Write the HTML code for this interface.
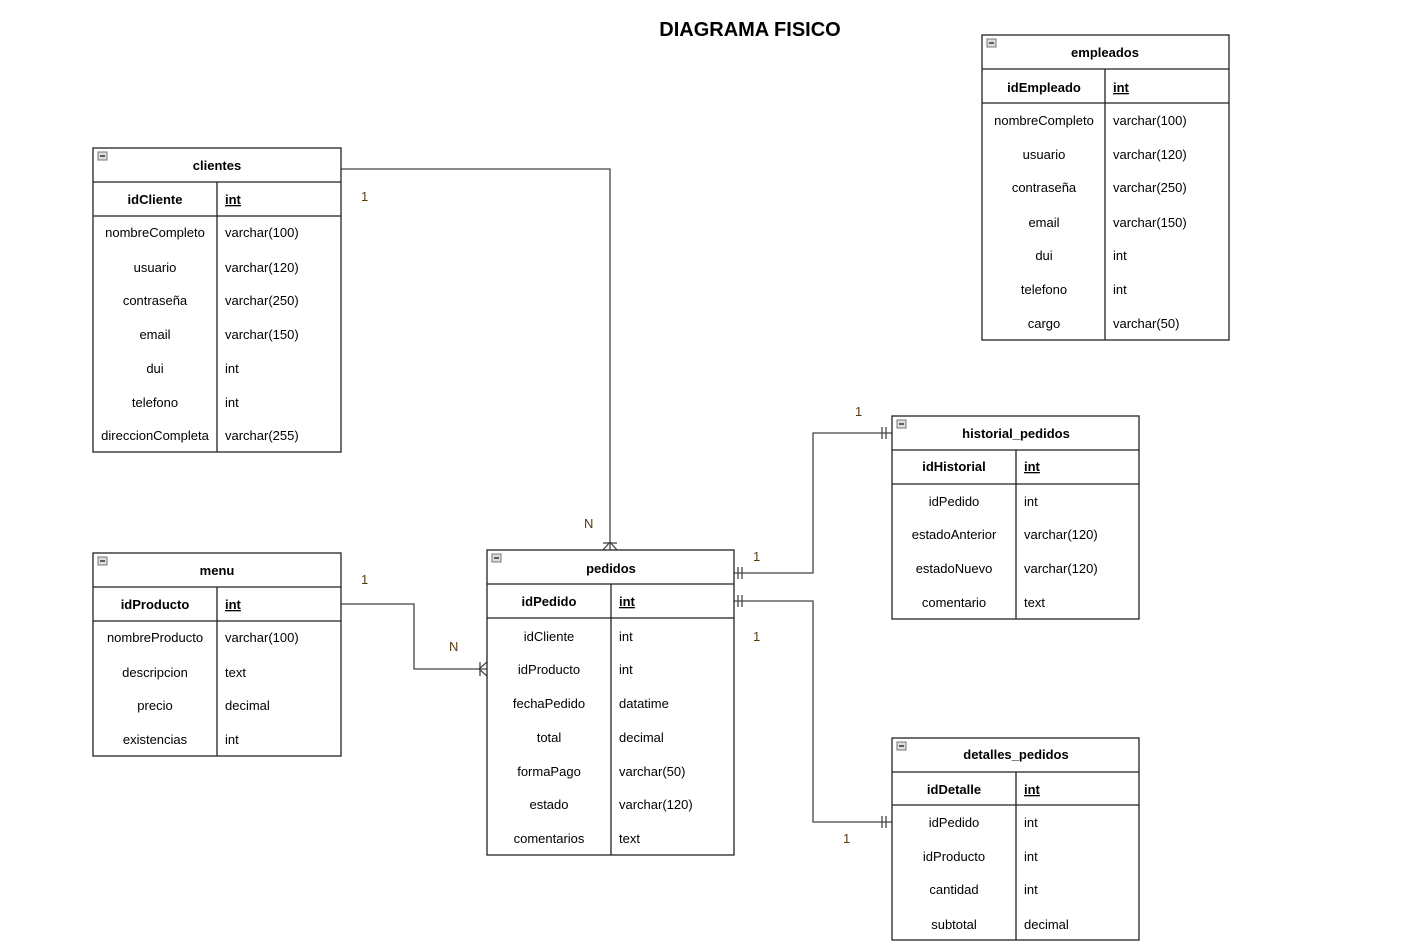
<!DOCTYPE html>
<html><head><meta charset="utf-8"><style>
html,body{margin:0;padding:0;background:#fff;width:1408px;height:952px;overflow:hidden}
svg text{font-family:"Liberation Sans",Arial,sans-serif;font-size:13px;fill:#000}
.b{font-weight:bold}
.l{fill:#5a3a10}
</style></head><body>
<svg width="1408" height="952" xmlns="http://www.w3.org/2000/svg">
<text x="750" y="36" text-anchor="middle" class="b" style="font-size:20px">DIAGRAMA FISICO</text>
<g stroke="#444" stroke-width="1.3" fill="none">
<polyline points="341,169 610,169 610,550"/>
<polyline points="603,550 610,542 617,550"/><line x1="603" y1="543" x2="617" y2="543"/>
<polyline points="341,604 414,604 414,669 487,669"/>
<polyline points="487,662 479,669 487,676"/><line x1="480" y1="662" x2="480" y2="676"/>
<polyline points="734,573 813,573 813,433 892,433"/>
<line x1="738" y1="567" x2="738" y2="579"/><line x1="742" y1="567" x2="742" y2="579"/>
<line x1="882" y1="427" x2="882" y2="439"/><line x1="886" y1="427" x2="886" y2="439"/>
<polyline points="734,601 813,601 813,822 892,822"/>
<line x1="738" y1="595" x2="738" y2="607"/><line x1="742" y1="595" x2="742" y2="607"/>
<line x1="882" y1="816" x2="882" y2="828"/><line x1="886" y1="816" x2="886" y2="828"/>
</g>
<text x="361" y="201" class="l">1</text><text x="584" y="528" class="l">N</text>
<text x="361" y="584" class="l">1</text><text x="449" y="651" class="l">N</text>
<text x="753" y="561" class="l">1</text><text x="855" y="416" class="l">1</text>
<text x="753" y="641" class="l">1</text><text x="843" y="843" class="l">1</text>

<!-- table helper: frame -->
<g stroke="#222" stroke-width="1.3" fill="#fff">
<rect x="93" y="148" width="248" height="304"/><line x1="93" y1="182" x2="341" y2="182"/><line x1="93" y1="216" x2="341" y2="216"/><line x1="217" y1="182" x2="217" y2="452"/>
<rect x="982" y="35" width="247" height="305"/><line x1="982" y1="69" x2="1229" y2="69"/><line x1="982" y1="103" x2="1229" y2="103"/><line x1="1105" y1="69" x2="1105" y2="340"/>
<rect x="93" y="553" width="248" height="203"/><line x1="93" y1="587" x2="341" y2="587"/><line x1="93" y1="621" x2="341" y2="621"/><line x1="217" y1="587" x2="217" y2="756"/>
<rect x="487" y="550" width="247" height="305"/><line x1="487" y1="584" x2="734" y2="584"/><line x1="487" y1="618" x2="734" y2="618"/><line x1="611" y1="584" x2="611" y2="855"/>
<rect x="892" y="416" width="247" height="203"/><line x1="892" y1="450" x2="1139" y2="450"/><line x1="892" y1="484" x2="1139" y2="484"/><line x1="1016" y1="450" x2="1016" y2="619"/>
<rect x="892" y="738" width="247" height="202"/><line x1="892" y1="772" x2="1139" y2="772"/><line x1="892" y1="805" x2="1139" y2="805"/><line x1="1016" y1="772" x2="1016" y2="940"/>
</g>
<g fill="#ddd" stroke="#777" stroke-width="1">
<rect x="98" y="152" width="9" height="8"/><rect x="987" y="39" width="9" height="8"/><rect x="98" y="557" width="9" height="8"/>
<rect x="492" y="554" width="9" height="8"/><rect x="897" y="420" width="9" height="8"/><rect x="897" y="742" width="9" height="8"/>
</g>
<g stroke="#333" stroke-width="1.5">
<line x1="100" y1="156" x2="105" y2="156"/><line x1="989" y1="43" x2="994" y2="43"/><line x1="100" y1="561" x2="105" y2="561"/>
<line x1="494" y1="558" x2="499" y2="558"/><line x1="899" y1="424" x2="904" y2="424"/><line x1="899" y1="746" x2="904" y2="746"/>
</g>

<!-- clientes -->
<text x="217" y="170" text-anchor="middle" class="b">clientes</text>
<text x="155" y="204" text-anchor="middle" class="b">idCliente</text><text x="225" y="204" class="b" text-decoration="underline">int</text>
<g text-anchor="middle">
<text x="155" y="237">nombreCompleto</text><text x="155" y="272">usuario</text><text x="155" y="305">contraseña</text><text x="155" y="339">email</text><text x="155" y="373">dui</text><text x="155" y="407">telefono</text><text x="155" y="440">direccionCompleta</text>
</g>
<text x="225" y="237">varchar(100)</text><text x="225" y="272">varchar(120)</text><text x="225" y="305">varchar(250)</text><text x="225" y="339">varchar(150)</text><text x="225" y="373">int</text><text x="225" y="407">int</text><text x="225" y="440">varchar(255)</text>

<!-- empleados -->
<text x="1105" y="57" text-anchor="middle" class="b">empleados</text>
<text x="1044" y="92" text-anchor="middle" class="b">idEmpleado</text><text x="1113" y="92" class="b" text-decoration="underline">int</text>
<g text-anchor="middle">
<text x="1044" y="125">nombreCompleto</text><text x="1044" y="159">usuario</text><text x="1044" y="192">contraseña</text><text x="1044" y="227">email</text><text x="1044" y="260">dui</text><text x="1044" y="294">telefono</text><text x="1044" y="328">cargo</text>
</g>
<text x="1113" y="125">varchar(100)</text><text x="1113" y="159">varchar(120)</text><text x="1113" y="192">varchar(250)</text><text x="1113" y="227">varchar(150)</text><text x="1113" y="260">int</text><text x="1113" y="294">int</text><text x="1113" y="328">varchar(50)</text>

<!-- menu -->
<text x="217" y="575" text-anchor="middle" class="b">menu</text>
<text x="155" y="609" text-anchor="middle" class="b">idProducto</text><text x="225" y="609" class="b" text-decoration="underline">int</text>
<g text-anchor="middle">
<text x="155" y="642">nombreProducto</text><text x="155" y="677">descripcion</text><text x="155" y="710">precio</text><text x="155" y="744">existencias</text>
</g>
<text x="225" y="642">varchar(100)</text><text x="225" y="677">text</text><text x="225" y="710">decimal</text><text x="225" y="744">int</text>

<!-- pedidos -->
<text x="611" y="573" text-anchor="middle" class="b">pedidos</text>
<text x="549" y="606" text-anchor="middle" class="b">idPedido</text><text x="619" y="606" class="b" text-decoration="underline">int</text>
<g text-anchor="middle">
<text x="549" y="641">idCliente</text><text x="549" y="674">idProducto</text><text x="549" y="708">fechaPedido</text><text x="549" y="742">total</text><text x="549" y="776">formaPago</text><text x="549" y="809">estado</text><text x="549" y="843">comentarios</text>
</g>
<text x="619" y="641">int</text><text x="619" y="674">int</text><text x="619" y="708">datatime</text><text x="619" y="742">decimal</text><text x="619" y="776">varchar(50)</text><text x="619" y="809">varchar(120)</text><text x="619" y="843">text</text>

<!-- historial_pedidos -->
<text x="1016" y="438" text-anchor="middle" class="b">historial_pedidos</text>
<text x="954" y="471" text-anchor="middle" class="b">idHistorial</text><text x="1024" y="471" class="b" text-decoration="underline">int</text>
<g text-anchor="middle">
<text x="954" y="506">idPedido</text><text x="954" y="539">estadoAnterior</text><text x="954" y="573">estadoNuevo</text><text x="954" y="607">comentario</text>
</g>
<text x="1024" y="506">int</text><text x="1024" y="539">varchar(120)</text><text x="1024" y="573">varchar(120)</text><text x="1024" y="607">text</text>

<!-- detalles_pedidos -->
<text x="1016" y="759" text-anchor="middle" class="b">detalles_pedidos</text>
<text x="954" y="794" text-anchor="middle" class="b">idDetalle</text><text x="1024" y="794" class="b" text-decoration="underline">int</text>
<g text-anchor="middle">
<text x="954" y="827">idPedido</text><text x="954" y="861">idProducto</text><text x="954" y="894">cantidad</text><text x="954" y="929">subtotal</text>
</g>
<text x="1024" y="827">int</text><text x="1024" y="861">int</text><text x="1024" y="894">int</text><text x="1024" y="929">decimal</text>
</svg>
</body></html>
